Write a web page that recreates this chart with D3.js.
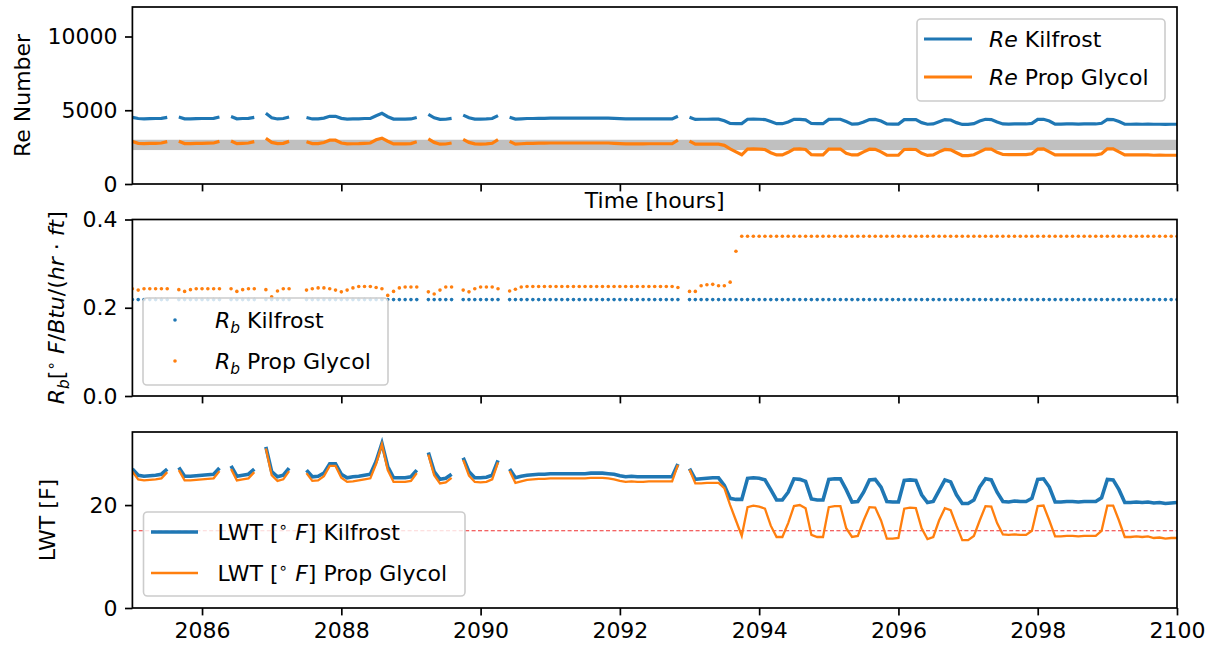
<!DOCTYPE html>
<html><head><meta charset="utf-8">
<script src="https://cdn.jsdelivr.net/npm/d3@7"></script>
<style>
body{margin:0;background:#fff}
svg{display:block}
text{font-family:"DejaVu Sans",sans-serif;fill:#000}
</style>
</head><body>
<svg id="c" width="1215" height="647"></svg>
<script>
// ---------- DATA (5-minute samples from hour 2085 to 2100) ----------
const tStart = 2085, tStep = 1/12;
const xTicks = [2086, 2088, 2090, 2092, 2094, 2096, 2098, 2100];
const reTicks = [0, 5000, 10000];
const rbTicks = [0, 0.2, 0.4];
const lwtTicks = [0, 20];
const laminarBand = [2300, 3000];
const lwtLimit = 15;

const reKilfrost = [
4520,4440,4420,4430,4440,4450,4520,null,4540,4420,
4420,4430,4440,4440,4450,4540,null,4570,4420,4440,
4450,4520,null,4790,4490,4410,4440,4540,null,null,
4510,4410,4420,4470,4590,4590,4450,4400,4410,4420,
4440,4450,4630,4790,4560,4400,4400,4400,4410,4510,
null,4720,4490,4380,4390,4450,null,4670,4490,4400,
4400,4410,4440,4640,null,4520,4400,4420,4440,4440,
4450,4450,4460,4460,4460,4460,4460,4460,4460,4470,
4470,4470,4460,4450,4430,4410,4420,4410,4410,4410,
4410,4410,4410,4410,4590,null,4530,4380,4390,4390,
4400,4400,4290,4110,4100,4100,4390,4400,4390,4370,
4230,4090,4090,4200,4390,4380,4350,4100,4090,4090,
4380,4390,4390,4230,4060,4070,4200,4370,4380,4270,
4070,4060,4060,4360,4370,4360,4160,4050,4070,4220,
4370,4340,4160,4040,4040,4090,4270,4390,4370,4200,
4070,4060,4080,4070,4070,4110,4380,4390,4270,4060,
4060,4070,4070,4060,4070,4070,4070,4120,4380,4370,
4230,4050,4050,4060,4050,4060,4050,4050,4040,4050,4050];

const rePropGlycol = [
2880,2760,2740,2750,2760,2780,2870,null,2900,2740,
2740,2750,2760,2770,2780,2890,null,2920,2740,2760,
2780,2870,null,3100,2820,2740,2760,2890,null,null,
2860,2740,2740,2810,2970,2970,2780,2720,2730,2740,
2760,2780,3000,3110,2900,2720,2720,2720,2740,2860,
null,3060,2820,2700,2710,2780,null,3030,2820,2720,
2710,2720,2760,3010,null,2890,2700,2730,2750,2760,
2770,2770,2780,2780,2780,2780,2780,2780,2780,2780,
2780,2780,2780,2760,2740,2720,2730,2720,2720,2730,
2730,2730,2730,2730,2980,null,2910,2700,2700,2700,
2700,2700,2620,2380,2180,1980,2360,2380,2360,2340,
2120,1970,1970,2150,2370,2380,2340,1990,1970,1970,
2360,2370,2370,2080,1970,1980,2180,2360,2350,2180,
1950,1950,1950,2340,2350,2340,2080,1940,1970,2180,
2340,2320,2120,1930,1930,1980,2180,2370,2360,2150,
2000,1990,2000,1990,1990,2050,2370,2380,2180,1970,
1970,1980,1980,1970,1980,1980,1980,2050,2380,2380,
2180,1970,1970,1970,1970,1970,1950,1960,1950,1950,1950];

const rbKilfrost = [
0.2185,0.2185,0.2185,0.2185,0.2185,0.2185,0.2185,null,0.2185,0.2185,
0.2185,0.2185,0.2185,0.2185,0.2185,0.2185,null,0.2185,0.2185,0.2185,
0.2185,0.2185,null,0.2185,0.2185,0.2185,0.2185,0.2185,null,null,
0.2185,0.2185,0.2185,0.2185,0.2185,0.2185,0.2185,0.2185,0.2185,0.2185,
0.2185,0.2185,0.2185,0.2185,0.2185,0.2185,0.2185,0.2185,0.2185,0.2185,
null,0.2185,0.2185,0.2185,0.2185,0.2185,null,0.2185,0.2185,0.2185,
0.2185,0.2185,0.2185,0.2185,null,0.2185,0.2185,0.2185,0.2185,0.2185,
0.2185,0.2185,0.2185,0.2185,0.2185,0.2185,0.2185,0.2185,0.2185,0.2185,
0.2185,0.2185,0.2185,0.2185,0.2185,0.2185,0.2185,0.2185,0.2185,0.2185,
0.2185,0.2185,0.2185,0.2185,0.2185,null,0.2185,0.2185,0.2185,0.2185,
0.2185,0.2185,0.2185,0.2185,0.2185,0.2185,0.2185,0.2185,0.2185,0.2185,
0.2185,0.2185,0.2185,0.2185,0.2185,0.2185,0.2185,0.2185,0.2185,0.2185,
0.2185,0.2185,0.2185,0.2185,0.2185,0.2185,0.2185,0.2185,0.2185,0.2185,
0.2185,0.2185,0.2185,0.2185,0.2185,0.2185,0.2185,0.2185,0.2185,0.2185,
0.2185,0.2185,0.2185,0.2185,0.2185,0.2185,0.2185,0.2185,0.2185,0.2185,
0.2185,0.2185,0.2185,0.2185,0.2185,0.2185,0.2185,0.2185,0.2185,0.2185,
0.2185,0.2185,0.2185,0.2185,0.2185,0.2185,0.2185,0.2185,0.2185,0.2185,
0.2185,0.2185,0.2185,0.2185,0.2185,0.2185,0.2185,0.2185,0.2185,0.2185,0.2185];

const rbPropGlycol = [
0.243,0.240,0.243,0.243,0.243,0.243,0.243,null,0.241,0.237,
0.241,0.243,0.243,0.243,0.243,0.243,null,0.243,0.237,0.241,
0.243,0.243,null,0.241,0.225,0.238,0.243,0.243,null,null,
0.240,0.243,0.245,0.245,0.243,0.240,0.236,0.240,0.245,0.248,
0.248,0.248,0.246,0.243,0.228,0.237,0.245,0.247,0.247,0.247,
null,0.236,0.231,0.240,0.247,0.247,null,0.240,0.236,0.243,
0.247,0.247,0.247,0.243,null,0.238,0.242,0.247,0.248,0.248,
0.248,0.248,0.248,0.248,0.248,0.248,0.248,0.248,0.248,0.248,
0.248,0.248,0.248,0.248,0.248,0.248,0.248,0.248,0.248,0.248,
0.248,0.248,0.248,0.248,0.246,null,0.237,0.237,0.250,0.252,
0.253,0.250,0.250,0.258,0.328,0.362,0.362,0.362,0.362,0.362,
0.362,0.362,0.362,0.362,0.362,0.362,0.362,0.362,0.362,0.362,
0.362,0.362,0.362,0.362,0.362,0.362,0.362,0.362,0.362,0.362,
0.362,0.362,0.362,0.362,0.362,0.362,0.362,0.362,0.362,0.362,
0.362,0.362,0.362,0.362,0.362,0.362,0.362,0.362,0.362,0.362,
0.362,0.362,0.362,0.362,0.362,0.362,0.362,0.362,0.362,0.362,
0.362,0.362,0.362,0.362,0.362,0.362,0.362,0.362,0.362,0.362,
0.362,0.362,0.362,0.362,0.362,0.362,0.362,0.362,0.362,0.362,0.362];

const lwtKilfrost = [
27.0,25.8,25.6,25.7,25.8,26.0,27.0,null,27.3,25.6,
25.6,25.7,25.8,25.9,26.0,27.2,null,27.6,25.6,25.8,
26.0,27.0,null,31.3,26.5,25.5,25.8,27.2,null,null,
26.8,25.5,25.6,26.2,28.0,28.0,26.0,25.3,25.5,25.6,
25.8,26.0,28.5,32.0,27.5,25.3,25.3,25.3,25.5,26.8,
null,30.2,26.5,25.0,25.2,26.0,null,29.2,26.5,25.3,
25.3,25.4,25.8,28.7,null,27.0,25.3,25.6,25.8,25.9,
26.0,26.0,26.1,26.1,26.1,26.1,26.1,26.1,26.1,26.2,
26.2,26.2,26.1,26.0,25.7,25.5,25.6,25.5,25.5,25.5,
25.5,25.5,25.5,25.5,28.0,null,27.1,25.0,25.1,25.2,
25.3,25.3,23.8,21.3,21.1,21.1,25.2,25.3,25.2,24.9,
23.0,21.0,21.0,22.5,25.1,25.0,24.6,21.2,21.0,21.0,
25.0,25.1,25.1,23.0,20.6,20.7,22.5,24.9,25.0,23.5,
20.7,20.6,20.6,24.8,24.9,24.8,22.0,20.5,20.7,22.8,
24.9,24.5,22.0,20.3,20.3,21.0,23.5,25.1,24.9,22.5,
20.7,20.6,20.8,20.7,20.7,21.3,25.0,25.1,23.5,20.6,
20.6,20.7,20.7,20.6,20.7,20.7,20.7,21.4,25.0,24.9,
23.0,20.5,20.5,20.6,20.5,20.6,20.4,20.5,20.3,20.4,20.5];

const lwtPropGlycol = [
26.5,25.0,24.8,24.9,25.0,25.2,26.4,null,26.8,24.8,
24.8,24.9,25.0,25.1,25.2,26.6,null,27.0,24.8,25.0,
25.2,26.4,null,31.0,25.8,24.7,25.0,26.6,null,null,
26.2,24.7,24.8,25.6,27.6,27.6,25.3,24.5,24.6,24.8,
25.0,25.2,28.0,31.8,26.8,24.5,24.5,24.5,24.7,26.2,
null,29.8,25.8,24.2,24.4,25.3,null,28.8,25.7,24.5,
24.4,24.5,25.0,28.3,null,26.6,24.3,24.6,24.9,25.0,
25.1,25.1,25.2,25.2,25.2,25.2,25.2,25.2,25.2,25.3,
25.3,25.3,25.2,25.0,24.7,24.5,24.6,24.5,24.5,24.6,
24.6,24.6,24.6,24.6,27.8,null,26.9,24.2,24.2,24.3,
24.3,24.3,23.3,20.0,17.0,14.0,19.6,19.9,19.7,19.3,
16.0,13.8,13.8,16.5,19.8,20.0,19.4,14.2,13.8,13.8,
19.6,19.8,19.8,15.5,13.8,14.0,17.0,19.6,19.5,17.0,
13.5,13.5,13.6,19.3,19.5,19.4,15.5,13.4,13.8,17.0,
19.4,19.0,16.0,13.2,13.2,14.0,17.0,19.8,19.7,16.5,
14.3,14.2,14.3,14.2,14.2,15.0,19.8,19.9,17.0,13.9,
13.9,14.0,14.0,13.9,14.0,14.0,14.0,15.0,19.9,19.9,
17.0,13.8,13.8,13.9,13.8,13.9,13.6,13.7,13.5,13.6,13.6];

// ---------- LAYOUT ----------
const BLUE = "#1f77b4", ORANGE = "#ff7f0e";
const FS = 22;
const svg = d3.select("#c");
const xL = 132.4, xR = 1177;
const panels = [
  {top: 7, bot: 184, dom: [0, 12000]},
  {top: 219.5, bot: 396, dom: [0, 0.4]},
  {top: 432, bot: 608, dom: [0, 34.2]}
];
const x = d3.scaleLinear().domain([tStart, 2100]).range([xL, xR]);
const ys = panels.map(p => d3.scaleLinear().domain(p.dom).range([p.bot, p.top]));
const tOf = i => tStart + i * tStep;

const defs = svg.append("defs");
panels.forEach((p, k) => {
  defs.append("clipPath").attr("id", "clip" + k).append("rect")
    .attr("x", xL).attr("y", p.top).attr("width", xR - xL).attr("height", p.bot - p.top);
});

function rich(textSel, parts, fs) {
  let prev = 0;
  parts.forEach(p => {
    const off = p.sub ? 0.22 * fs : (p.sup ? -0.38 * fs : 0);
    const ts = textSel.append("tspan").text(p.t);
    if (p.i) ts.attr("font-style", "italic");
    if (p.sub || p.sup) ts.attr("font-size", (0.7 * fs) + "px");
    if (off !== prev) ts.attr("dy", off - prev);
    prev = off;
  });
}

function lineGen(y) {
  return d3.line().defined(d => d.v != null).x(d => x(d.t)).y(d => y(d.v));
}
const toPts = arr => arr.map((v, i) => ({t: tOf(i), v: v}));

function axes(k, yTicks, yFmt, showX) {
  const p = panels[k], y = ys[k];
  const gx = svg.append("g").attr("transform", `translate(0,${p.bot})`)
    .call(d3.axisBottom(x).tickValues(xTicks).tickSize(7.4).tickPadding(7.4)
      .tickFormat(showX ? d3.format("d") : () => ""));
  const gy = svg.append("g").attr("transform", `translate(${xL},0)`)
    .call(d3.axisLeft(y).tickValues(yTicks).tickSize(7.4).tickPadding(7.4).tickFormat(yFmt));
  [gx, gy].forEach(g => {
    g.select(".domain").remove();
    g.selectAll(".tick line").attr("stroke", "#000").attr("stroke-width", 1.7);
    g.selectAll(".tick text").attr("font-size", FS + "px").attr("fill", "#000")
      .attr("font-family", "DejaVu Sans");
  });
  svg.append("rect").attr("x", xL).attr("y", p.top).attr("width", xR - xL)
    .attr("height", p.bot - p.top).attr("fill", "none").attr("stroke", "#000").attr("stroke-width", 1.7);
}

function legendBox(x0, y0, x1, y1) {
  svg.append("rect").attr("x", x0).attr("y", y0).attr("width", x1 - x0).attr("height", y1 - y0)
    .attr("rx", 4).attr("fill", "#fff").attr("fill-opacity", 0.8)
    .attr("stroke", "#cccccc").attr("stroke-width", 1.6);
}

// ---------- PANEL 1: Reynolds number ----------
{
  const y = ys[0];
  const g = svg.append("g").attr("clip-path", "url(#clip0)");
  g.append("rect").attr("x", xL).attr("width", xR - xL)
    .attr("y", y(laminarBand[1])).attr("height", y(laminarBand[0]) - y(laminarBand[1]))
    .attr("fill", "#c0c0c0");
  g.append("path").datum(toPts(reKilfrost)).attr("d", lineGen(y))
    .attr("fill", "none").attr("stroke", BLUE).attr("stroke-width", 3.2);
  g.append("path").datum(toPts(rePropGlycol)).attr("d", lineGen(y))
    .attr("fill", "none").attr("stroke", ORANGE).attr("stroke-width", 3.2);
  axes(0, reTicks, d3.format("d"), false);
  svg.append("text").attr("transform", "translate(22,95.5) rotate(-90)")
    .attr("text-anchor", "middle").attr("dy", "0.36em").attr("font-size", FS + "px").text("Re Number");
  svg.append("text").attr("x", (xL + xR) / 2).attr("y", 208).attr("text-anchor", "middle")
    .attr("font-size", FS + "px").text("Time [hours]");
  legendBox(917, 19, 1165, 101);
  [[BLUE, 39, "Kilfrost"], [ORANGE, 77, "Prop Glycol"]].forEach(([c, yy, lab]) => {
    svg.append("line").attr("x1", 924).attr("x2", 972).attr("y1", yy).attr("y2", yy)
      .attr("stroke", c).attr("stroke-width", 3.2);
    const t = svg.append("text").attr("x", 989).attr("y", yy + 0.36 * FS).attr("font-size", FS + "px");
    rich(t, [{t: "Re", i: true}, {t: " " + lab}], FS);
  });
}

// ---------- PANEL 2: borehole resistance ----------
{
  const y = ys[1];
  const g = svg.append("g").attr("clip-path", "url(#clip1)");
  g.selectAll("circle.k").data(toPts(rbKilfrost).filter(d => d.v != null)).enter()
    .append("circle").attr("cx", d => x(d.t)).attr("cy", d => y(d.v)).attr("r", 1.8).attr("fill", BLUE);
  g.selectAll("circle.p").data(toPts(rbPropGlycol).filter(d => d.v != null)).enter()
    .append("circle").attr("cx", d => x(d.t)).attr("cy", d => y(d.v)).attr("r", 1.8).attr("fill", ORANGE);
  axes(1, rbTicks, d3.format(".1f"), false);
  const yl = svg.append("text").attr("transform", `translate(56,${(panels[1].top + panels[1].bot) / 2}) rotate(-90)`)
    .attr("text-anchor", "middle").attr("dy", "0.36em").attr("font-size", FS + "px");
  rich(yl, [{t: "R", i: true}, {t: "b", i: true, sub: true}, {t: "["}, {t: "∘", sup: true},
    {t: " "}, {t: "F", i: true}, {t: "/"}, {t: "Btu", i: true}, {t: "/("}, {t: "hr", i: true},
    {t: " · "}, {t: "ft", i: true}, {t: "]"}], FS);
  legendBox(143, 298, 388, 385);
  [[BLUE, 320, "Kilfrost"], [ORANGE, 361, "Prop Glycol"]].forEach(([c, yy, lab]) => {
    svg.append("circle").attr("cx", 175).attr("cy", yy).attr("r", 1.8).attr("fill", c);
    const t = svg.append("text").attr("x", 215).attr("y", yy + 0.36 * FS).attr("font-size", FS + "px");
    rich(t, [{t: "R", i: true}, {t: "b", i: true, sub: true}, {t: " " + lab}], FS);
  });
}

// ---------- PANEL 3: leaving water temperature ----------
{
  const y = ys[2];
  const g = svg.append("g").attr("clip-path", "url(#clip2)");
  g.append("line").attr("x1", xL).attr("x2", xR).attr("y1", y(lwtLimit)).attr("y2", y(lwtLimit))
    .attr("stroke", "#f03030").attr("stroke-width", 1.1).attr("stroke-dasharray", "4,2.4");
  g.append("path").datum(toPts(lwtKilfrost)).attr("d", lineGen(y))
    .attr("fill", "none").attr("stroke", BLUE).attr("stroke-width", 3.6);
  g.append("path").datum(toPts(lwtPropGlycol)).attr("d", lineGen(y))
    .attr("fill", "none").attr("stroke", ORANGE).attr("stroke-width", 2.3);
  axes(2, lwtTicks, d3.format("d"), true);
  svg.append("text").attr("transform", `translate(47,${(panels[2].top + panels[2].bot) / 2}) rotate(-90)`)
    .attr("text-anchor", "middle").attr("dy", "0.36em").attr("font-size", FS + "px").text("LWT [F]");
  legendBox(143.5, 512, 465, 596);
  [[BLUE, 532, "Kilfrost", 3.6], [ORANGE, 573, "Prop Glycol", 2.3]].forEach(([c, yy, lab, w]) => {
    svg.append("line").attr("x1", 151).attr("x2", 198).attr("y1", yy).attr("y2", yy)
      .attr("stroke", c).attr("stroke-width", w);
    const t = svg.append("text").attr("x", 217.5).attr("y", yy + 0.36 * FS).attr("font-size", FS + "px");
    rich(t, [{t: "LWT ["}, {t: "∘", sup: true}, {t: " "}, {t: "F", i: true}, {t: "] " + lab}], FS);
  });
}
</script>
</body></html>
